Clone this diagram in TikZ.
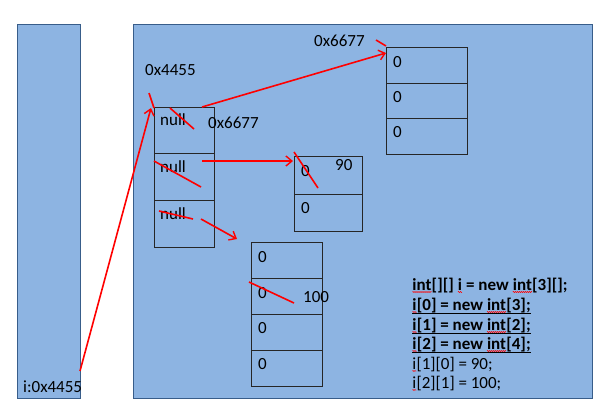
\documentclass[tikz,border=0pt]{standalone}
\usepackage{fontspec}
\setmainfont{Carlito}
\usetikzlibrary{arrows.meta,decorations.pathmorphing}
\definecolor{bgblue}{HTML}{8DB4E2}
\definecolor{edgeblue}{HTML}{385D8A}
\newcommand\sq[1]{\tikz[baseline=(sqw.base)]{\node[inner sep=0pt,outer sep=0pt,anchor=base](sqw){#1};\draw[red,line width=0.5pt,decorate,decoration={zigzag,amplitude=0.6pt,segment length=2pt}]([yshift=-2pt]sqw.base west)--([yshift=-2pt]sqw.base east);}}
\begin{document}
\begin{tikzpicture}[x=1pt,y=-1pt,
  panel/.style={draw=edgeblue,line width=1.4pt,fill=bgblue,anchor=north west,inner sep=0pt},
  cell/.style={draw=black!85,line width=0.9pt,anchor=north west,inner sep=0pt},
  lbl/.style={font=\fontsize{17}{20}\selectfont,inner sep=0pt,anchor=base west},
  code/.style={font=\fontsize{17}{20}\selectfont,inner sep=0pt,anchor=base west},
  ptr/.style={red,line width=1.6pt,-{Straight Barb[length=6pt,width=10pt,line width=1.4pt]}},
  strike/.style={red,line width=1.6pt},
  uline/.style={black,line width=1pt}]
\useasboundingbox (0,0) rectangle (605,408);
\fill[white] (0,0) rectangle (605,408);
% panels
\node[panel,minimum width=63pt,minimum height=374pt] (stackp) at (17,24) {};
\node[panel,minimum width=459pt,minimum height=374pt] (heapp) at (133,24) {};
% outer array i
\node[cell,minimum width=60pt,minimum height=46pt] (s0) at (154,107) {};
\node[cell,minimum width=60pt,minimum height=47pt] (s1) at (154,153) {};
\node[cell,minimum width=60pt,minimum height=47pt] (s2) at (154,200) {};
% array A
\node[cell,minimum width=81pt,minimum height=36pt] (a0) at (386,47) {};
\node[cell,minimum width=81pt,minimum height=35pt] (a1) at (386,83) {};
\node[cell,minimum width=81pt,minimum height=36pt] (a2) at (386,118) {};
% array B
\node[cell,minimum width=68pt,minimum height=38pt] (b0) at (294,156) {};
\node[cell,minimum width=68pt,minimum height=37pt] (b1) at (294,194) {};
% array C
\node[cell,minimum width=71pt,minimum height=36pt] (d0) at (251,242) {};
\node[cell,minimum width=71pt,minimum height=36pt] (d1) at (251,278) {};
\node[cell,minimum width=71pt,minimum height=36pt] (d2) at (251,314) {};
\node[cell,minimum width=71pt,minimum height=36pt] (d3) at (251,350) {};
% labels
\node[lbl] (addr1) at (145,75) {0x4455};
\node[lbl] (addr2) at (314,46) {0x6677};
\node[lbl] (addr3) at (208,128) {0x6677};
\node[lbl] (n0) at (160,125) {null};
\node[lbl] (n1) at (160,172) {null};
\node[lbl] (n2) at (160,219) {null};
\node[lbl] (ta0) at (393,67) {0};
\node[lbl] (ta1) at (393,102) {0};
\node[lbl] (ta2) at (393,137) {0};
\node[lbl] (tb0) at (301,176) {0};
\node[lbl] (t90) at (335,170) {90};
\node[lbl] (tb1) at (301,213) {0};
\node[lbl] (td0) at (258,262) {0};
\node[lbl] (td1) at (258,298) {0};
\node[lbl] (t100) at (303,302) {100};
\node[lbl] (td2) at (258,333) {0};
\node[lbl] (td3) at (258,369) {0};
\node[lbl] (iaddr) at (23,392) {i:0x4455};
% code
\node[code] (c1) at (412,290) {\textbf{\sq{int}[][] \sq{i} = new \sq{int}[3][];}};
\node[code] (c2) at (412,310) {\textbf{\sq{i}[0] = new \sq{int}[3];}};
\node[code] (c3) at (412,330) {\textbf{\sq{i}[1] = new \sq{int}[2];}};
\node[code] (c4) at (412,349) {\textbf{\sq{i}[2] = new \sq{int}[4];}};
\node[code] (c5) at (412,369) {\sq{i}[1][0] = 90;};
\node[code] (c6) at (412,388) {\sq{i}[2][1] = 100;};
\draw[uline] ([yshift=-3.5pt]c2.base west) -- ([yshift=-3.5pt]c2.base east);
\draw[uline] ([yshift=-3.5pt]c3.base west) -- ([yshift=-3.5pt]c3.base east);
\draw[uline] ([yshift=-3.5pt]c4.base west) -- ([yshift=-3.5pt]c4.base east);
% red pointers and strikes
\coordinate (iref) at (80,371);
\coordinate (p0) at (151,108);
\coordinate (sl0a) at (149,93);
\coordinate (sl0b) at (154,108);
\coordinate (r0) at (202,107);
\coordinate (pa) at (386,53);
\coordinate (sl1a) at (376,40);
\coordinate (sl1b) at (386,46);
\coordinate (k0a) at (170,108);
\coordinate (k0b) at (194,129);
\coordinate (r1) at (202,161);
\coordinate (pb) at (293,161);
\coordinate (k1a) at (154,161);
\coordinate (k1b) at (201,187);
\coordinate (k2a) at (159,211);
\coordinate (k2b) at (193,219);
\coordinate (r2) at (201,219);
\coordinate (pd) at (237,239);
\coordinate (k3a) at (294,152);
\coordinate (k3b) at (318,188);
\coordinate (k4a) at (249,282);
\coordinate (k4b) at (294,303);
\draw[ptr] (iref) -- (p0);
\draw[strike] (sl0a) -- (sl0b);
\draw[ptr] (r0) -- (pa);
\draw[strike] (sl1a) -- (sl1b);
\draw[strike] (k0a) -- (k0b);
\draw[ptr] (r1) -- (pb);
\draw[strike] (k1a) -- (k1b);
\draw[strike] (k2a) -- (k2b);
\draw[ptr] (r2) -- (pd);
\draw[strike] (k3a) -- (k3b);
\draw[strike] (k4a) -- (k4b);
\end{tikzpicture}
\end{document}
